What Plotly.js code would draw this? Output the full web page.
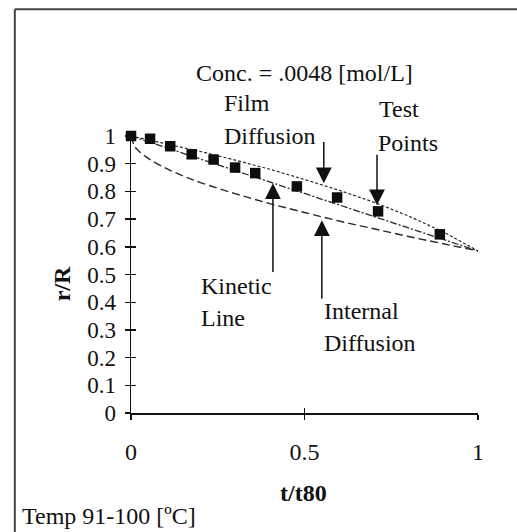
<!DOCTYPE html>
<html>
<head>
<meta charset="utf-8">
<script src="https://cdn.plot.ly/plotly-3.0.1.min.js"></script>
<style>html,body{margin:0;padding:0;background:#fff;}#chart{width:517px;height:532px;}</style>
</head>
<body>
<div id="chart"></div>
<script>
// Test points (squares)
var testX = [0, 0.055, 0.113, 0.175, 0.238, 0.300, 0.358, 0.478, 0.594, 0.712, 0.890];
var testY = [1.0, 0.99, 0.963, 0.934, 0.915, 0.886, 0.866, 0.818, 0.778, 0.728, 0.645];
// Film diffusion curve
var filmX = [0, 0.1, 0.2, 0.3, 0.4, 0.5, 0.6, 0.7, 0.8, 0.9, 0.95, 1.0];
var filmY = [1, 0.973, 0.944, 0.913, 0.880, 0.843, 0.804, 0.761, 0.711, 0.654, 0.621, 0.585];
// Kinetic line
var kinX = [0, 0.25, 0.5, 0.75, 1.0];
var kinY = [1, 0.896, 0.793, 0.689, 0.585];
// Internal diffusion curve
var intX = [0, 0.01, 0.02, 0.05, 0.1, 0.15, 0.2, 0.3, 0.4, 0.5, 0.6, 0.7, 0.8, 0.9, 1.0];
var intY = [1, 0.964, 0.949, 0.919, 0.884, 0.856, 0.832, 0.792, 0.756, 0.724, 0.693, 0.665, 0.637, 0.611, 0.585];
// Tick labels
var yTickVals = [0, 0.1, 0.2, 0.3, 0.4, 0.5, 0.6, 0.7, 0.8, 0.9, 1];
var yTickText = ["0", "0.1", "0.2", "0.3", "0.4", "0.5", "0.6", "0.7", "0.8", "0.9", "1"];
var xTickVals = [0, 0.5, 1];
var xTickText = ["0", "0.5", "1"];

var FONT = "Liberation Serif, Times New Roman, serif";
var INK = "#111";
var LINE = "#2a2a2a";

var traces = [
  {x: filmX, y: filmY, mode: "lines", line: {color: LINE, width: 1.2, dash: "3px,2px"}, hoverinfo: "skip", cliponaxis: false},
  {x: kinX, y: kinY, mode: "lines", line: {color: LINE, width: 1.3, dash: "7px,2px,2px,2px"}, hoverinfo: "skip", cliponaxis: false},
  {x: intX, y: intY, mode: "lines", line: {color: LINE, width: 1.4, dash: "8px,4px", shape: "spline"}, hoverinfo: "skip", cliponaxis: false},
  {x: testX, y: testY, mode: "markers", marker: {symbol: "square", size: 10.5, color: "#0d0d0d"}, cliponaxis: false},
  {x: [], y: [], xaxis: "x2", yaxis: "y2", mode: "markers"}
];

function txt(t, x, y, anchor, extra) {
  var a = {text: t, x: x, y: y, xref: "paper", yref: "paper", xanchor: anchor || "left", yanchor: "middle",
    showarrow: false, font: {family: FONT, size: 24, color: INK}};
  if (extra) for (var k in extra) a[k] = extra[k];
  return a;
}
function arrow(x, y, ay) {
  return {x: x, y: y, ax: x, ay: ay, xref: "x", yref: "y", axref: "x", ayref: "y", text: "",
    showarrow: true, arrowhead: 2, arrowsize: 2.1, arrowwidth: 1.5, arrowcolor: INK};
}

var annotations = [
  txt("Conc. = .0048 [mol/L]", 0.4993, 1.2264, "center"),
  txt("Film", 0.2626, 1.118),
  txt("Diffusion", 0.2626, 0.999),
  txt("Test", 0.710, 1.0964),
  txt("Points", 0.707, 0.9736),
  txt("Kinetic", 0.1962, 0.4574),
  txt("Line", 0.1962, 0.3419),
  txt("Internal", 0.5512, 0.3671),
  txt("Diffusion", 0.5512, 0.2516),
  txt("Temp 91-100 [ºC]", -0.3203, -0.373),
  txt("<b>t/t80</b>", 0.4964, -0.29, "center"),
  txt("<b>r/R</b>", -0.199, 0.468, "center", {textangle: -90}),
  arrow(0.5556, 0.829, 0.984),
  arrow(0.709, 0.750, 0.9375),
  arrow(0.409, 0.829, 0.504),
  arrow(0.550, 0.696, 0.407)
];

var layout = {
  width: 517, height: 532,
  margin: {l: 131, r: 39, t: 136, b: 119, pad: 0},
  paper_bgcolor: "#fff", plot_bgcolor: "rgba(0,0,0,0)",
  showlegend: false,
  xaxis: {range: [0, 1], tickvals: xTickVals, ticktext: xTickText, showgrid: false, zeroline: false,
    showline: true, linecolor: INK, linewidth: 1.5, ticks: "outside", ticklen: 5, tickwidth: 1.4, tickcolor: INK,
    ticklabelstandoff: 12, tickfont: {family: FONT, size: 24, color: INK}, fixedrange: true},
  yaxis: {range: [0, 1], tickvals: yTickVals, ticktext: yTickText, showgrid: false, zeroline: false,
    showline: true, linecolor: INK, linewidth: 1.5, ticks: "outside", ticklen: 5, tickwidth: 1.4, tickcolor: INK,
    ticklabelstandoff: 4, tickfont: {family: FONT, size: 23, color: INK}, fixedrange: true},
  xaxis2: {range: [0, 1], overlaying: "x", anchor: "y2", tickvals: xTickVals, showticklabels: false, showgrid: false,
    zeroline: false, showline: false, ticks: "inside", ticklen: 5, tickwidth: 1.4, tickcolor: INK, fixedrange: true},
  yaxis2: {range: [0, 1], overlaying: "y", anchor: "x2", tickvals: yTickVals, showticklabels: false, showgrid: false,
    zeroline: false, showline: false, ticks: "inside", ticklen: 5, tickwidth: 1.4, tickcolor: INK, fixedrange: true},
  annotations: annotations,
  shapes: [
    {type: "line", xref: "paper", yref: "paper", x0: -0.3348, x1: 1.13, y0: 1.4574, y1: 1.4574, line: {color: "#444", width: 2}},
    {type: "line", xref: "paper", yref: "paper", x0: -0.3348, x1: -0.3348, y0: 1.4574, y1: -0.45, line: {color: "#444", width: 2}}
  ]
};

Plotly.newPlot("chart", traces, layout, {displayModeBar: false, staticPlot: true});
</script>
</body>
</html>
